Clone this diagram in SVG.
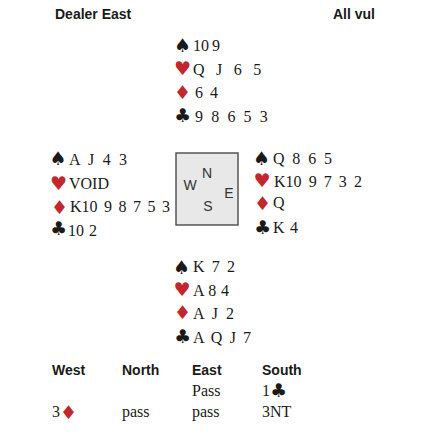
<svg xmlns="http://www.w3.org/2000/svg" width="440" height="440" viewBox="0 0 440 440">
<style>
.hd{font-family:"Liberation Sans",Arial,sans-serif;font-weight:bold;font-size:14px;fill:#1a1a1a}
.c{font-family:"Liberation Serif","Times New Roman",serif;font-size:16px;fill:#1a1a1a}
.s{font-family:"DejaVu Sans",sans-serif;font-size:19px;text-anchor:middle;fill:#1a1a1a}
.si{font-family:"DejaVu Sans",sans-serif;font-size:19px;fill:#1a1a1a}
.r{fill:#c1272d}
.cp{font-family:"Liberation Sans",Arial,sans-serif;font-size:14px;fill:#333;text-anchor:middle}
</style>
<rect width="440" height="440" fill="#fff"/>
<g id="header">
<text class="hd" x="55" y="19">Dealer East</text>
<text class="hd" x="333" y="19">All vul</text>
</g>
<g id="north">
<text class="s" x="182.5" y="51.5">♠</text>
<text class="s r" x="182.5" y="74.5">♥</text>
<text class="s r" x="182.5" y="98.5">♦</text>
<text class="s" x="182.5" y="121.5">♣</text>
<text class="c" x="193" y="51" word-spacing="-1">10 9</text>
<text class="c" x="193" y="74.5" word-spacing="7.5">Q J 6 5</text>
<text class="c" x="195" y="98" word-spacing="3">6 4</text>
<text class="c" x="195" y="121.5" word-spacing="4.2">9 8 6 5 3</text>
</g>
<g id="west">
<text class="s" x="58" y="164.5">♠</text>
<text class="s r" x="58.5" y="189.5">♥</text>
<text class="s r" x="59.5" y="214">♦</text>
<text class="s" x="58.5" y="235">♣</text>
<text class="c" x="69" y="165" word-spacing="4.4">A J 4 3</text>
<text class="c" x="69" y="188.5">VOID</text>
<text class="c" x="70" y="212" word-spacing="2.5">K10 9 8 7 5 3</text>
<text class="c" x="68" y="235.5" word-spacing="1">10 2</text>
</g>
<g id="compass">
<rect x="176" y="153" width="62" height="72" fill="#e8e8e8" stroke="#4a4a4a" stroke-width="1.4"/>
<text class="cp" x="207" y="178">N</text>
<text class="cp" x="190" y="190">W</text>
<text class="cp" x="229" y="198">E</text>
<text class="cp" x="208" y="211">S</text>
</g>
<g id="east">
<text class="s" x="261.5" y="164.5">♠</text>
<text class="s r" x="262" y="186.5">♥</text>
<text class="s r" x="262.5" y="209.5">♦</text>
<text class="s" x="262.5" y="233.5">♣</text>
<text class="c" x="273" y="164" word-spacing="3.8">Q 8 6 5</text>
<text class="c" x="274" y="186.5" word-spacing="3.1">K10 9 7 3 2</text>
<text class="c" x="273" y="208">Q</text>
<text class="c" x="273" y="233" word-spacing="1.5">K 4</text>
</g>
<g id="south">
<text class="s" x="181.5" y="274">♠</text>
<text class="s r" x="182" y="295.5">♥</text>
<text class="s r" x="182.5" y="319">♦</text>
<text class="s" x="182.5" y="343">♣</text>
<text class="c" x="193" y="272" word-spacing="3.2">K 7 2</text>
<text class="c" x="193" y="295.5" word-spacing="0.7">A 8 4</text>
<text class="c" x="193" y="319" word-spacing="4.1">A J 2</text>
<text class="c" x="193" y="342.5" word-spacing="3.2">A Q J 7</text>
</g>
<g id="auction">
<text class="hd" x="52" y="375">West</text>
<text class="hd" x="122" y="375">North</text>
<text class="hd" x="192" y="375">East</text>
<text class="hd" x="262" y="375">South</text>
<text class="c" x="192" y="396">Pass</text>
<text class="c" x="262" y="396">1<tspan class="si" dy="0.5">♣</tspan></text>
<text class="c" x="52" y="417">3<tspan class="si r" dy="1.5">♦</tspan></text>
<text class="c" x="122" y="417">pass</text>
<text class="c" x="192" y="417">pass</text>
<text class="c" x="262" y="417">3NT</text>
</g>
</svg>
